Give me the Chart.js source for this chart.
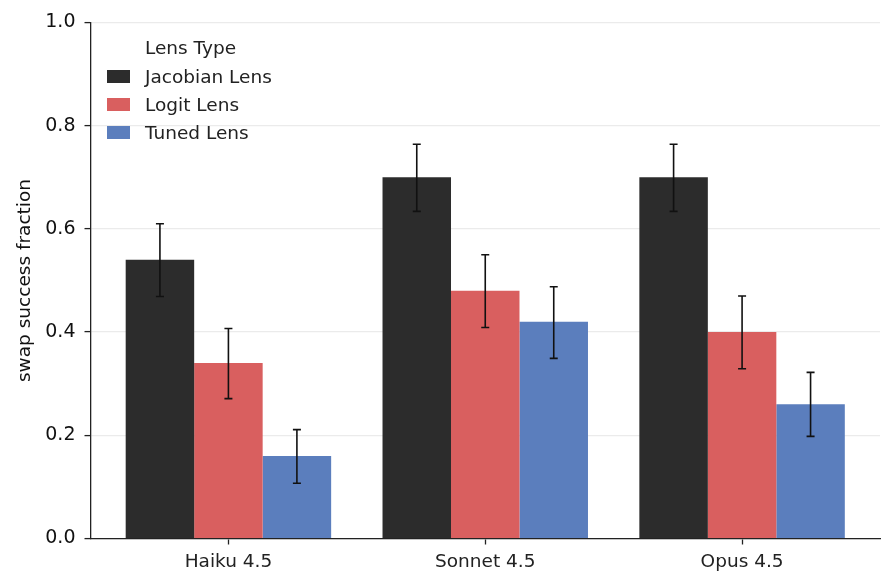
<!DOCTYPE html>
<html>
<head>
    <title>Swap success fraction</title>
    <script src="https://cdn.jsdelivr.net/npm/chart.js"></script>
    <style>
        body { margin: 0; background: #fff; font-family: "DejaVu Sans", sans-serif; }
        #wrap { position: relative; width: 895px; height: 587px; }
        #legend { position: absolute; left: 107px; top: 36px; color: #222; font-size: 18.5px; }
        #legend .title { margin-left: 38px; height: 26px; line-height: 24px; }
        #legend .item { display: flex; align-items: center; height: 28px; }
        #legend .box { width: 23px; height: 13px; margin-right: 15px; }
    </style>
</head>
<body>
    <div id="wrap">
        <canvas id="chart" width="895" height="587"></canvas>
        <div id="legend"></div>
    </div>

    <script>
        // Data
        const categories = ['Haiku 4.5', 'Sonnet 4.5', 'Opus 4.5'];
        const seriesNames = ['Jacobian Lens', 'Logit Lens', 'Tuned Lens'];
        const seriesColors = ['#2c2c2c', '#d95f5f', '#5b7ebd'];

        const jacobianValues = [0.54, 0.70, 0.70];
        const logitValues = [0.34, 0.48, 0.40];
        const tunedValues = [0.16, 0.42, 0.26];

        // error bar bounds (lower, upper)
        const jacobianLow = [0.469, 0.634, 0.634];
        const jacobianHigh = [0.610, 0.764, 0.764];
        const logitLow = [0.271, 0.409, 0.329];
        const logitHigh = [0.407, 0.550, 0.470];
        const tunedLow = [0.107, 0.349, 0.198];
        const tunedHigh = [0.211, 0.488, 0.322];

        const yTicks = [0, 0.2, 0.4, 0.6, 0.8, 1.0];

        const allValues = [jacobianValues, logitValues, tunedValues];
        const allLow = [jacobianLow, logitLow, tunedLow];
        const allHigh = [jacobianHigh, logitHigh, tunedHigh];

        const font = { family: 'DejaVu Sans', size: 18.5 };

        // draws the whiskers on top of each bar
        const errorBars = {
            id: 'errorBars',
            afterDatasetsDraw(chart) {
                const ctx = chart.ctx;
                const y = chart.scales.y;
                ctx.save();
                ctx.strokeStyle = '#111';
                ctx.lineWidth = 1.6;
                chart.data.datasets.forEach((ds, i) => {
                    chart.getDatasetMeta(i).data.forEach((bar, j) => {
                        const top = y.getPixelForValue(allHigh[i][j]);
                        const bot = y.getPixelForValue(allLow[i][j]);
                        ctx.beginPath();
                        ctx.moveTo(bar.x, top);
                        ctx.lineTo(bar.x, bot);
                        ctx.moveTo(bar.x - 4, top);
                        ctx.lineTo(bar.x + 4, top);
                        ctx.moveTo(bar.x - 4, bot);
                        ctx.lineTo(bar.x + 4, bot);
                        ctx.stroke();
                    });
                });
                ctx.restore();
            }
        };

        new Chart(document.getElementById('chart'), {
            type: 'bar',
            data: {
                datasets: seriesNames.map((name, i) => ({
                    label: name,
                    data: categories.map((c, j) => ({ x: j, y: allValues[i][j] })),
                    backgroundColor: seriesColors[i],
                    borderWidth: 0,
                    categoryPercentage: 0.8,
                    barPercentage: 1.0
                }))
            },
            options: {
                responsive: false,
                animation: false,
                layout: { padding: { left: 14, right: 15, top: 22.5, bottom: 0 } },
                plugins: {
                    legend: { display: false },
                    tooltip: { enabled: false }
                },
                scales: {
                    x: {
                        type: 'linear',
                        min: -0.537,
                        max: 2.537,
                        offset: false,
                        afterBuildTicks: (scale) => {
                            scale.ticks = categories.map((c, j) => ({ value: j }));
                        },
                        afterFit: (scale) => { scale.height = 48.5; },
                        grid: { display: true, offset: false, drawOnChartArea: false, tickLength: 6, tickColor: '#222', tickWidth: 1.3 },
                        border: { color: '#222', width: 1.3, z: 1 },
                        ticks: {
                            color: '#222',
                            font: font,
                            padding: 7,
                            autoSkip: false,
                            maxRotation: 0,
                            callback: (v) => categories[v]
                        }
                    },
                    y: {
                        min: 0,
                        max: 1,
                        afterBuildTicks: (scale) => {
                            scale.ticks = yTicks.map(v => ({ value: v }));
                        },
                        afterFit: (scale) => { scale.width = 76.5; },
                        grid: { color: '#ebebeb', lineWidth: 1.2, tickLength: 6, tickColor: '#222', tickWidth: 1.3 },
                        border: { color: '#222', width: 1.3, z: 1 },
                        ticks: {
                            color: '#111',
                            font: { family: 'DejaVu Sans', size: 19 },
                            padding: 9,
                            callback: (v) => v.toFixed(1)
                        },
                        title: {
                            display: true,
                            text: 'swap success fraction',
                            color: '#111',
                            font: font,
                            padding: { top: 0, bottom: 4 }
                        }
                    }
                }
            },
            plugins: [errorBars]
        });

        // legend inside the plot area, top left
        const legend = document.getElementById('legend');
        legend.innerHTML = '<div class="title">Lens Type</div>' +
            seriesNames.map((name, i) =>
                `<div class="item"><span class="box" style="background:${seriesColors[i]}"></span>${name}</div>`
            ).join('');
    </script>
</body>
</html>
